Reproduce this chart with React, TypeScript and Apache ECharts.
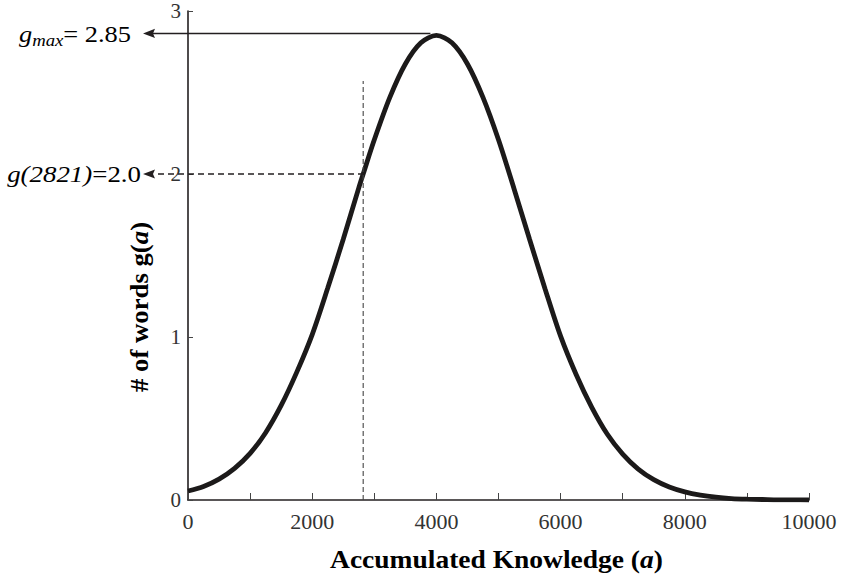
import { useEffect, useRef } from "react";
import * as echarts from "echarts";

// Accumulated knowledge (a) and the number of words g(a) along the curve
const knowledge = [
  0, 250, 500, 750, 1000, 1250, 1500, 1750, 2000, 2250, 2500, 2750, 2821, 3000,
  3250, 3500, 3750, 4000, 4250, 4500, 4750, 5000, 5250, 5500, 5750, 6000, 6250,
  6500, 6750, 7000, 7250, 7500, 7750, 8000, 8250, 8500, 8750, 9000, 9250, 9500,
  9750, 10000,
];
const words = [
  0.055, 0.083, 0.128, 0.194, 0.286, 0.413, 0.58, 0.783, 1.015, 1.3, 1.6, 1.915,
  2.0, 2.21, 2.47, 2.675, 2.805, 2.85, 2.805, 2.675, 2.47, 2.21, 1.91, 1.6,
  1.295, 1.005, 0.77, 0.57, 0.405, 0.282, 0.19, 0.125, 0.08, 0.05, 0.03, 0.017,
  0.009, 0.005, 0.003, 0.001, 0.001, 0.0,
];

const xLabelValues = [0, 2000, 4000, 6000, 8000, 10000];
const yLabelValues = [0, 1, 2, 3];

// Annotated points
const peakPoint = [4000, 2.85];
const markedPoint = [2821, 2.0];
const markedGuideTop = 2.57;

const SERIF = "'Liberation Serif', 'DejaVu Serif', serif";
const INK = "#231f20";
const WIDEN = 1.1;

export default function App() {
  const ref = useRef<HTMLDivElement>(null);

  useEffect(() => {
    const chart = echarts.init(ref.current!, null, { renderer: "svg" });

    chart.setOption({
      animation: false,
      backgroundColor: "#ffffff",
      grid: { left: 188, right: 32, top: 11, bottom: 76 },
      xAxis: {
        type: "value",
        min: 0,
        max: 10000,
        interval: 1000,
        splitLine: { show: false },
        axisLine: { lineStyle: { color: INK, width: 1.6 } },
        axisTick: { inside: true, length: 7, lineStyle: { color: "#444", width: 1 } },
        axisLabel: {
          margin: 10,
          fontFamily: SERIF,
          fontSize: 22,
          color: "#333",
          formatter: (v: number) => (xLabelValues.includes(v) ? String(v) : ""),
        },
      },
      yAxis: {
        type: "value",
        min: 0,
        max: 3,
        interval: 1,
        splitLine: { show: false },
        axisLine: { lineStyle: { color: INK, width: 1.6 } },
        axisTick: { inside: true, length: 5, lineStyle: { color: "#444", width: 1 } },
        axisLabel: {
          margin: 7,
          fontFamily: SERIF,
          fontSize: 21,
          color: "#333",
          formatter: (v: number) => (yLabelValues.includes(v) ? String(v) : ""),
        },
      },
      series: [
        {
          type: "line",
          data: knowledge.map((k, i) => [k, words[i]]),
          smooth: 0.3,
          showSymbol: false,
          lineStyle: { color: "#1c1a1a", width: 4.8 },
        },
      ],
    });

    const toPx = (p: number[]) =>
      chart.convertToPixel({ gridIndex: 0 }, p) as number[];

    const origin = toPx([0, 0]);
    const far = toPx([10000, 3]);
    const peak = toPx(peakPoint);
    const marked = toPx(markedPoint);
    const guideTop = toPx([markedPoint[0], markedGuideTop]);
    const guideBottom = toPx([markedPoint[0], 0]);

    const tipX = origin[0] - 45;
    const headLen = 12;
    const headHalf = 4.6;
    const arrowHead = (y: number) => ({
      type: "polygon",
      shape: {
        points: [
          [tipX, y],
          [tipX + headLen, y - headHalf],
          [tipX + headLen - 2, y],
          [tipX + headLen, y + headHalf],
        ],
      },
      style: { fill: INK },
      z: 20,
    });

    const mainFont = { fontFamily: SERIF, fontSize: 24, color: INK };
    const boldFont = { fontFamily: SERIF, fontSize: 25, fontWeight: "bold", color: INK };
    const boldItalic = { ...boldFont, fontStyle: "italic" };

    chart.setOption({
      graphic: [
        // peak reference line with arrow
        {
          type: "line",
          shape: { x1: tipX + 4, y1: peak[1] - 2, x2: peak[0] - 6, y2: peak[1] - 2 },
          style: { stroke: INK, lineWidth: 1.6 },
          z: 10,
        },
        arrowHead(peak[1] - 2),
        // dashed guides to g(2821)
        {
          type: "line",
          shape: { x1: tipX + headLen + 3, y1: marked[1], x2: marked[0], y2: marked[1] },
          style: { stroke: INK, lineWidth: 1.5, lineDash: [6, 4] },
          z: 10,
        },
        arrowHead(marked[1]),
        {
          type: "line",
          shape: {
            x1: guideBottom[0],
            y1: guideBottom[1],
            x2: guideTop[0],
            y2: guideTop[1],
          },
          style: { stroke: "#444", lineWidth: 1.1, lineDash: [5, 3] },
          z: 10,
        },
        // annotation labels
        {
          type: "text",
          x: tipX - 12,
          y: peak[1] - 2,
          scaleX: WIDEN,
          style: {
            text: "{g|g}{s|max}{n|= 2.85}",
            align: "right",
            verticalAlign: "middle",
            rich: {
              g: { ...mainFont, fontStyle: "italic", lineHeight: 30 },
              s: {
                fontFamily: SERIF,
                fontSize: 17,
                fontStyle: "italic",
                color: INK,
                lineHeight: 13,
                verticalAlign: "bottom",
              },
              n: { ...mainFont, lineHeight: 30 },
            },
          },
          z: 20,
        },
        {
          type: "text",
          x: tipX - 2,
          y: marked[1],
          scaleX: 1.12,
          style: {
            text: "{i|g(2821)}{n|=2.0}",
            align: "right",
            verticalAlign: "middle",
            rich: {
              i: { ...mainFont, fontStyle: "italic" },
              n: { ...mainFont },
            },
          },
          z: 20,
        },
        // axis titles
        {
          type: "text",
          x: (origin[0] + far[0]) / 2 - 2,
          y: origin[1] + 60,
          scaleX: WIDEN,
          style: {
            text: "{b|Accumulated Knowledge (}{i|a}{b|)}",
            align: "center",
            verticalAlign: "middle",
            rich: { b: boldFont, i: boldItalic },
          },
          z: 20,
        },
        {
          type: "text",
          x: origin[0] - 48,
          y: 307,
          rotation: Math.PI / 2,
          scaleX: 1.07,
          style: {
            text: "{b|# of words g(}{i|a}{b|)}",
            align: "center",
            verticalAlign: "middle",
            rich: { b: boldFont, i: boldItalic },
          },
          z: 20,
        },
      ],
    });

    return () => chart.dispose();
  }, []);

  return (
    <div
      ref={ref}
      style={{ position: "fixed", left: 0, top: 0, width: 841, height: 576 }}
    />
  );
}
